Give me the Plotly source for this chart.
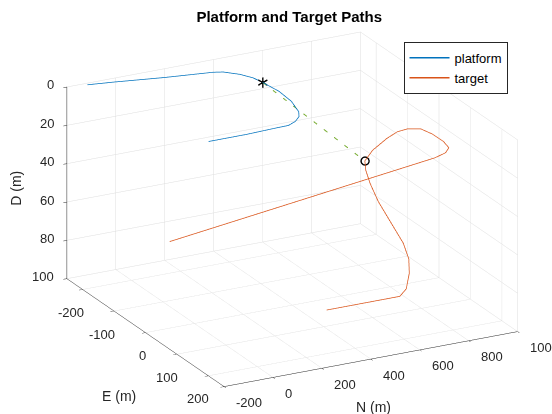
import plotly.graph_objects as go

# ---------------- data ----------------
# Platform path (N, E, D in metres)
plat_N = [-124, -27, 158, 338, 372, 415, 441, 450, 461, 454, 429, 407, 373, 332, 272, 157, 0]
plat_E = [-244, -236, -218, -204, -198, -178, -156, -133, -90, -45, -2, 16, 31, 41, 42, 45, 45]
plat_D = [0, 0, 0, 0, 0, 0, 0, 0, 0, 0, 0, 0, 0, 0, 0, 0, 0]
plat_now = 7  # index of current platform position (asterisk)

# Target path (N, E, D in metres)
targ_N = [-145, 813, 861, 886, 889, 888, 875, 842, 812, 775, 711, 680, 676, 672, 668, 664, 661, 658, 656, 654, 652, 594, 353]
targ_E = [34, 133, 129, 120, 100, 66, 39, 23, 13, 9, 14, 13, 19, 36, 65, 108, 150, 170, 173, 165, 146, 146, 146]
targ_D = [50, 18, 17, 16, 15, 15, 15, 16, 18, 21, 25, 30, 34, 39, 45, 51, 57, 63, 70, 79, 85, 85, 85]
targ_now = 11  # index of current target position (circle)

N_lim = [-200, 1000]
E_lim = [-250, 250]
D_lim = [0, 100]
N_ticks = [-200, 0, 200, 400, 600, 800, 1000]
E_ticks = [-200, -100, 0, 100, 200]
D_ticks = [0, 20, 40, 60, 80, 100]

# ---------------- figure ----------------
BLUE = '#0072BD'
ORANGE = '#D95319'
GREEN = '#77AC30'
FONT = 'Liberation Sans, Arial, Helvetica, sans-serif'
AX = '#262626'

fig = go.Figure()
fig.add_trace(go.Scatter3d(x=plat_N, y=plat_E, z=plat_D, mode='lines',
                           line=dict(color=BLUE, width=1.5), name='platform'))
fig.add_trace(go.Scatter3d(x=targ_N, y=targ_E, z=targ_D, mode='lines',
                           line=dict(color=ORANGE, width=1.5), name='target'))
fig.add_trace(go.Scatter3d(x=[plat_N[plat_now], targ_N[targ_now]],
                           y=[plat_E[plat_now], targ_E[targ_now]],
                           z=[plat_D[plat_now], targ_D[targ_now]],
                           mode='lines', line=dict(color=GREEN, width=2, dash='longdash'),
                           showlegend=False))
# platform current position: asterisk
fig.add_trace(go.Scatter3d(x=[plat_N[plat_now]], y=[plat_E[plat_now]], z=[plat_D[plat_now]],
                           mode='text', text=['\u2217'], textposition='middle center',
                           textfont=dict(family='DejaVu Sans', size=17, color='black'),
                           showlegend=False))
# target current position: circle
fig.add_trace(go.Scatter3d(x=[targ_N[targ_now]], y=[targ_E[targ_now]], z=[targ_D[targ_now]],
                           mode='markers',
                           marker=dict(symbol='circle-open', size=5, color='black',
                                       line=dict(color='black', width=1)),
                           showlegend=False))


def axis(lim, ticks, reverse):
    vals = list(ticks)
    for v in lim:
        if v not in vals:
            vals.append(v)
    vals.sort()
    rng = [lim[1], lim[0]] if reverse else list(lim)
    return dict(title=dict(text=''),
                range=rng, tickvals=vals, showticklabels=False, autorange=False,
                showbackground=False, gridcolor='#dedede', gridwidth=1,
                showline=True, linecolor=AX, linewidth=1,
                ticks='outside', tickcolor=AX, ticklen=4,
                zeroline=False, showspikes=False)


def note(text, x, y, z, dx, dy, xa='center', angle=0, size=13):
    return dict(x=x, y=y, z=z, text=text, showarrow=False, xshift=dx, yshift=dy,
                textangle=angle, xanchor=xa, yanchor='middle',
                font=dict(family=FONT, size=size, color=AX))


notes = []
for v in D_ticks:
    notes.append(note(str(v), N_lim[0], E_lim[0], v, -11, 2, xa='right'))
for v in E_ticks:
    notes.append(note(str(v), N_lim[0], v, D_lim[1], 3, -23, xa='right'))
for v in N_ticks:
    notes.append(note(str(v), v, E_lim[1], D_lim[1], 10, -16, xa='left'))
notes.append(note('D (m)', N_lim[0], E_lim[0], 50, -51, -5, angle=-90, size=14))
notes.append(note('E (m)', N_lim[0], 0, D_lim[1], -26, -63, size=14))
notes.append(note('N (m)', 400, E_lim[1], D_lim[1], 3, -48, size=14))

S = 1.60
fig.update_layout(
    width=552, height=414,
    margin=dict(l=0, r=0, t=0, b=0),
    paper_bgcolor='white',
    title=dict(text='<b>Platform and Target Paths</b>', x=0.524, xanchor='center',
               y=0.959, yanchor='middle', font=dict(family=FONT, size=15, color='black')),
    scene=dict(
        xaxis=axis(N_lim, N_ticks, False),
        yaxis=axis(E_lim, E_ticks, True),
        zaxis=axis(D_lim, D_ticks, True),
        aspectmode='manual', aspectratio=dict(x=1 * S, y=1.025 * S, z=0.62 * S),
        camera=dict(eye=dict(x=-0.4659 * 2, y=-0.8069 * 2, z=0.3636 * 2),
                    up=dict(x=0, y=0, z=1),
                    center=dict(x=-0.0664, y=0.0425, z=0.0092),
                    projection=dict(type='orthographic')),
        domain=dict(x=[0, 1], y=[0, 1]),
        annotations=notes,
    ),
    legend=dict(x=0.731, y=0.899, xanchor='left', yanchor='top',
                bgcolor='white', bordercolor=AX, borderwidth=1,
                font=dict(family=FONT, size=13, color='black'),
                itemwidth=40, tracegroupgap=0),
    showlegend=True,
)

fig.write_html('out.html', config={'displayModeBar': False},
               post_script="document.body.style.margin='0px';")
